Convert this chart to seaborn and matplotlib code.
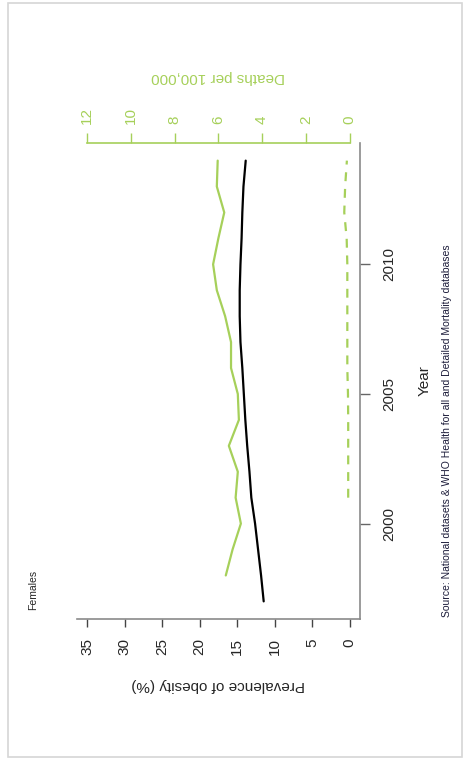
import matplotlib
matplotlib.use("Agg")
import matplotlib.pyplot as plt
from matplotlib.patches import Rectangle
import numpy as np
import seaborn as sns

years = [1997, 1998, 1999, 2000, 2001, 2002, 2003, 2004, 2005,
         2006, 2007, 2008, 2009, 2010, 2011, 2012, 2013, 2014]
obesity = [11.45, 11.8, 12.2, 12.6, 13.1, 13.35, 13.65, 13.9, 14.1,
           14.3, 14.55, 14.65, 14.65, 14.55, 14.4, 14.3, 14.15, 13.85]

death_years = [1998, 1999, 2000, 2001, 2002, 2003, 2004, 2005, 2006,
               2007, 2008, 2009, 2010, 2011, 2012, 2013, 2014]
deaths_a = [5.66, 5.35, 4.97, 5.21, 5.11, 5.52, 5.06, 5.11, 5.42,
            5.42, 5.69, 6.07, 6.24, 6.0, 5.73, 6.07, 6.03]

dash_years = [2001, 2002, 2003, 2004, 2005, 2006, 2007,
              2008, 2009, 2010, 2011, 2012, 2013, 2014]
deaths_b = [0.06, 0.06, 0.06, 0.06, 0.07, 0.1, 0.1,
            0.1, 0.1, 0.1, 0.13, 0.24, 0.2, 0.12]

prev_ticks = [0, 5, 10, 15, 20, 25, 30, 35]
death_ticks = [0, 2, 4, 6, 8, 10, 12]
year_ticks = [2000, 2005, 2010]

green = "#a6d05a"
axis_grey = "#8a8a8a"

sns.set_style("white")
plt.rcParams['font.family'] = ['Liberation Sans', 'DejaVu Sans']

W, H = 467, 764
fig = plt.figure(figsize=(W / 100, H / 100), dpi=100)
fig.patches.append(Rectangle((8 / W, 1 - 757 / H), (462 - 8) / W, (757 - 3) / H,
                             transform=fig.transFigure, fill=False,
                             edgecolor="#d6d6d6", lw=1.2))

# the chart is drawn turned 90 degrees: years run upward, values run leftward
ax = fig.add_axes([76.7 / W, 1 - 619 / H, (360 - 76.7) / W, (619 - 143) / H])

sns.lineplot(x=obesity, y=years, orient="y", estimator=None, sort=True,
             color="black", lw=1.6, ax=ax)
ax.set_xlim(36.4, -1.4)
ax.set_ylim(1996.32, 2014.68)

for s in ["top", "left"]:
    ax.spines[s].set_visible(False)
for s in ["bottom", "right"]:
    ax.spines[s].set_color(axis_grey)
    ax.spines[s].set_linewidth(1.2)

ax.set_xticks(prev_ticks)
ax.set_xticklabels([str(t) for t in prev_ticks])
ax.yaxis.tick_right()
ax.set_yticks(year_ticks)
ax.set_yticklabels([str(t) for t in year_ticks])
ax.tick_params(axis="x", bottom=True, direction="out", length=6, width=1,
               color="#444444", pad=8, labelsize=11, labelrotation=90)
ax.tick_params(axis="y", right=True, left=False, direction="out", length=7,
               width=1, color="#666666", pad=9, labelsize=11, labelrotation=90)
for lab in ax.get_yticklabels():
    lab.set_va("center")

ax.set_xlabel("Prevalence of obesity (%)", fontsize=11, rotation=180)
ax.xaxis.label.set_va("center")
ax.xaxis.set_label_coords(0.5, (619 - 684.5) / 476)
ax.yaxis.set_label_position("right")
ax.set_ylabel("Year", fontsize=11, rotation=90)
ax.yaxis.label.set_va("center")
ax.yaxis.set_label_coords((425 - 76.7) / 283.3, 0.5)

# second value axis (deaths) along the top
ax2 = ax.twiny()
sns.lineplot(x=deaths_a, y=death_years, orient="y", estimator=None,
             color=green, lw=1.6, ax=ax2)
sns.lineplot(x=deaths_b, y=dash_years, orient="y", estimator=None,
             color=green, lw=1.6, linestyle=(0, (4, 3.5)), ax=ax2)
ax2.set_xlim(36.4 * 12 / 35, -1.4 * 12 / 35)
ax2.set_ylim(1996.32, 2014.68)
for s in ["bottom", "left", "right"]:
    ax2.spines[s].set_visible(False)
ax2.spines["top"].set_color(green)
ax2.spines["top"].set_linewidth(1.2)
ax2.spines["top"].set_bounds(0, 12)
ax2.set_xticks(death_ticks)
ax2.set_xticklabels([str(t) for t in death_ticks])
ax2.tick_params(axis="x", top=True, direction="out", length=7, width=1,
                color=green, labelcolor=green, pad=7, labelsize=11,
                labelrotation=90)
ax2.set_xlabel("Deaths per 100,000", fontsize=11, color=green, rotation=180)
ax2.xaxis.label.set_va("center")
ax2.xaxis.set_label_coords(0.5, (619 - 77) / 476)
ax2.set_ylabel("")

fig.text(33 / W, 1 - 610 / H, "Females", rotation=90, ha="center",
         va="bottom", fontsize=7.5)
fig.text(447 / W, 1 - 617 / H,
         "Source: National datasets & WHO Health for all and Detailed Mortality databases",
         rotation=90, ha="center", va="bottom", fontsize=7.5, color="#1c1c3a")

fig.savefig("out.png", dpi=100)
